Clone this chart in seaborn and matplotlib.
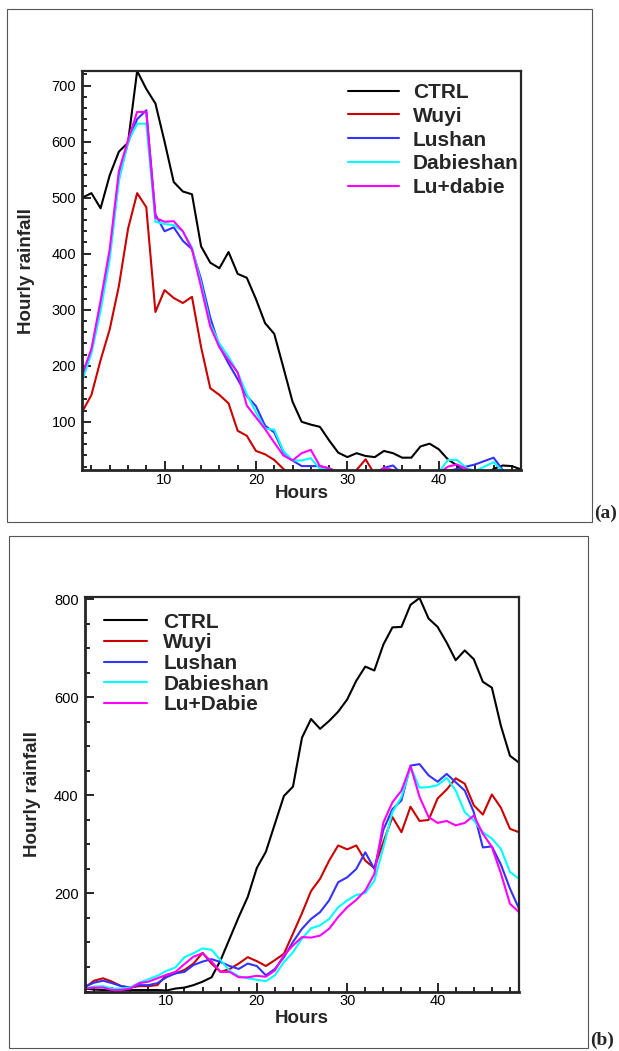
import numpy as np
import pandas as pd
import matplotlib
matplotlib.use('Agg')
import matplotlib.pyplot as plt
import seaborn as sns
from matplotlib.patches import Rectangle
from matplotlib.ticker import MultipleLocator, FixedLocator

# hourly rainfall, two cases (a) and (b), hours 1..49

hours = list(range(1, 50))

# ---- panel (a)
ctrl_a = [500, 508, 481, 540, 582, 598, 726, 694, 668, 600, 528, 511, 506, 413, 384, 374, 403, 364, 357, 319,
          276, 257, 197, 136, 100, 95, 91, 67, 45, 37, 44, 39, 37, 48, 44, 36, 36, 56, 61, 51,
          33, 22, 8, 5, 5, 16, 22, 21, 15]
wuyi_a = [118, 148, 210, 265, 342, 444, 508, 483, 296, 335, 321, 312, 323, 233, 160, 148, 133, 84, 75, 48,
          42, 32, 16, 2, 0, 0, 0, 0, 0, 2, 14, 33, 6, 0, 0, 0, 0, 0, 0, 0,
          0, 0, 0, 0, 0, 0, 0, 0, 0]
lushan_a = [180, 228, 305, 400, 535, 598, 640, 656, 470, 440, 447, 423, 408, 354, 286, 235, 204, 176, 146, 128,
            93, 81, 46, 31, 21, 21, 21, 17, 10, 5, 3, 3, 5, 18, 22, 6, 2, 2, 2, 8,
            12, 16, 20, 24, 30, 36, 14, 4, 2]
dabie_a = [174, 222, 298, 390, 529, 600, 632, 632, 457, 453, 451, 440, 411, 347, 275, 240, 216, 188, 149, 117,
           88, 86, 48, 31, 31, 35, 16, 15, 8, 3, 3, 3, 3, 3, 3, 3, 3, 3, 3, 10,
           32, 32, 18, 12, 20, 28, 12, 8, 5]
ludabie_a = [185, 230, 316, 408, 547, 603, 653, 653, 464, 457, 458, 440, 408, 340, 270, 233, 210, 188, 129, 108,
             87, 63, 40, 31, 44, 50, 21, 17, 10, 3, 3, 3, 8, 18, 14, 4, 3, 3, 3, 8,
             20, 24, 16, 10, 5, 3, 3, 3, 3]

# ---- panel (b)
ctrl_b = [6, 4, 3, 3, 3, 3, 3, 3, 3, 2, 6, 8, 13, 20, 29, 64, 108, 152, 193, 252,
          285, 342, 399, 418, 518, 556, 536, 552, 571, 596, 634, 663, 655, 708, 743, 744, 789, 803, 761, 744,
          712, 676, 696, 678, 632, 620, 542, 481, 467]
wuyi_b = [8, 22, 27, 20, 11, 8, 11, 11, 13, 34, 37, 44, 57, 79, 57, 40, 46, 57, 70, 62,
          52, 64, 77, 118, 160, 205, 230, 267, 298, 290, 298, 267, 252, 305, 356, 325, 377, 348, 350, 394,
          412, 435, 424, 380, 361, 402, 375, 332, 325]
lushan_b = [10, 18, 22, 17, 11, 8, 13, 13, 17, 29, 37, 40, 54, 61, 66, 60, 52, 46, 57, 52,
            33, 46, 70, 101, 128, 148, 162, 186, 223, 233, 250, 284, 250, 330, 372, 390, 461, 464, 441, 428,
            444, 427, 410, 366, 294, 296, 259, 210, 169]
dabie_b = [6, 10, 11, 6, 6, 8, 18, 25, 32, 42, 49, 70, 78, 88, 85, 64, 42, 31, 27, 24,
           21, 33, 60, 80, 108, 129, 135, 148, 172, 186, 197, 201, 226, 294, 366, 397, 458, 416, 417, 421,
           436, 410, 366, 349, 325, 312, 291, 244, 230]
ludabie_b = [6, 8, 8, 3, 3, 6, 17, 20, 27, 34, 40, 56, 71, 78, 61, 40, 40, 29, 29, 32,
             30, 43, 74, 94, 111, 110, 114, 128, 152, 172, 187, 206, 240, 345, 386, 410, 460, 397, 356, 344,
             348, 339, 344, 359, 322, 295, 241, 179, 162]

names_a = ['CTRL', 'Wuyi', 'Lushan', 'Dabieshan', 'Lu+dabie']
names_b = ['CTRL', 'Wuyi', 'Lushan', 'Dabieshan', 'Lu+Dabie']
colors = ['#000000', '#cc0000', '#3333ff', '#00ffff', '#ff00ff']

sns.set_style('ticks')
plt.rcParams['font.family'] = ['Liberation Sans', 'DejaVu Sans']

W, H = 619, 1051
fig = plt.figure(figsize=(W / 100, H / 100), dpi=100)


def px_axes(left, top, right, bottom):
    return fig.add_axes([left / W, 1 - bottom / H, (right - left) / W, (bottom - top) / H])


ax_a = px_axes(82.3, 71, 521, 470)
ax_b = px_axes(85, 597, 519, 991.5)


def draw_panel(ax, series, names):
    for vals, name, c in zip(series, names, colors):
        sns.lineplot(x=hours, y=vals, color=c, lw=1.5, label=name, ax=ax)
    ax.set_xlim(1, 49)
    ax.xaxis.set_major_locator(MultipleLocator(10))
    ax.xaxis.set_minor_locator(MultipleLocator(2))
    ax.tick_params(which='both', direction='in', top=False, right=False, width=1.2,
                   colors='black', labelsize=10.5)
    ax.tick_params(which='major', length=6.5)
    ax.tick_params(which='minor', length=3.6)
    ax.tick_params(axis='y', pad=4.5)
    ax.tick_params(axis='x', pad=2)
    for s in ['left', 'bottom']:
        ax.spines[s].set_linewidth(2.0)
    for s in ['top', 'right']:
        ax.spines[s].set_linewidth(1.6)
    ax.set_xlabel('Hours', fontsize=13.5, fontweight='bold', va='top')
    ax.set_ylabel('Hourly rainfall', fontsize=13.5, fontweight='bold')


draw_panel(ax_a, [ctrl_a, wuyi_a, lushan_a, dabie_a, ludabie_a], names_a)
ax_a.set_ylim(14, 726)
ax_a.yaxis.set_major_locator(MultipleLocator(100))
ax_a.yaxis.set_minor_locator(MultipleLocator(20))
ax_a.xaxis.set_label_coords(0.5, -0.038)
ax_a.yaxis.set_label_coords(-0.108, 0.5)
ax_a.legend(loc='upper left', bbox_to_anchor=(0.605, 0.970), frameon=False,
            prop={'weight': 'bold', 'size': 15}, handlelength=2.45, handletextpad=0.67,
            labelspacing=0.23, borderaxespad=0, borderpad=0)

draw_panel(ax_b, [ctrl_b, wuyi_b, lushan_b, dabie_b, ludabie_b], names_b)
ax_b.set_ylim(0, 805)
ax_b.yaxis.set_major_locator(FixedLocator([200, 400, 600, 800]))
ax_b.yaxis.set_minor_locator(MultipleLocator(50))
ax_b.xaxis.set_label_coords(0.5, -0.047)
ax_b.yaxis.set_label_coords(-0.101, 0.5)
ax_b.legend(loc='upper left', bbox_to_anchor=(0.044, 0.960), frameon=False,
            prop={'weight': 'bold', 'size': 15}, handlelength=2.05, handletextpad=0.8,
            labelspacing=0.08, borderaxespad=0, borderpad=0)

# frames round each panel + panel letters
fig.add_artist(Rectangle((7 / W, 1 - 522 / H), 585 / W, 513 / H, transform=fig.transFigure,
                         fill=False, lw=0.8, ec='#555555'))
fig.add_artist(Rectangle((9 / W, 1 - 1047.5 / H), 579 / W, 511.5 / H, transform=fig.transFigure,
                         fill=False, lw=0.8, ec='#555555'))
fig.text(594 / W, 1 - 518 / H, '(a)', family=['Liberation Serif', 'DejaVu Serif'], fontweight='bold',
         fontsize=14, ha='left', va='baseline')
fig.text(590 / W, 1 - 1045 / H, '(b)', family=['Liberation Serif', 'DejaVu Serif'], fontweight='bold',
         fontsize=14, ha='left', va='baseline')

fig.savefig('out.png', dpi=100)
